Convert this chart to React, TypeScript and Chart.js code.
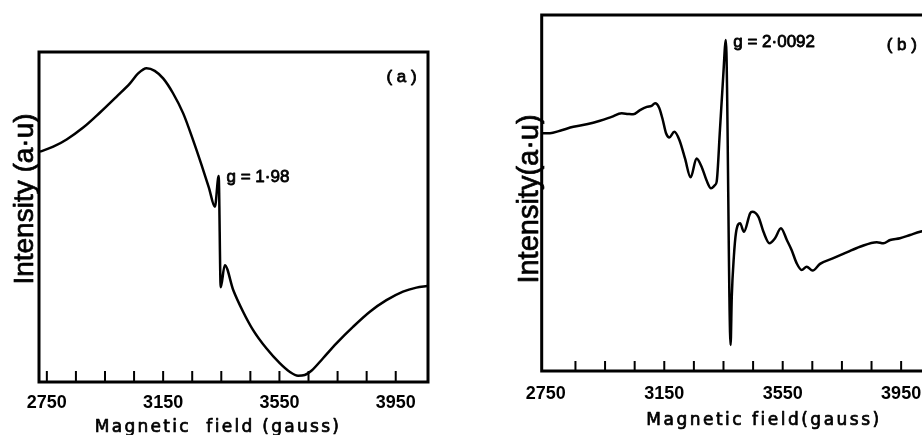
import React, { useEffect, useRef } from "react";
import { Chart, registerables } from "chart.js";

Chart.register(...registerables);

// ---------------- data ----------------
// Panel (a): magnetic field (gauss) and intensity (arbitrary units, 0..100)
const FIELD_A = [2726, 2772, 2818, 2875, 2932, 2990, 3036, 3064, 3093, 3121, 3150, 3184, 3219, 3253, 3282, 3308, 3328, 3341, 3348, 3362, 3391, 3425, 3459, 3505, 3551, 3585, 3614, 3637, 3660, 3700, 3746, 3803, 3861, 3918, 3975, 4021, 4058];
const INTENSITY_A = [69.8, 71.3, 73.5, 77.1, 81.6, 86.5, 90.5, 93.5, 95.1, 94.3, 92.0, 87.5, 81.4, 73.3, 65.8, 58.7, 53.1, 62.4, 28.7, 35.4, 27.9, 21.3, 15.8, 10.2, 5.7, 3.1, 1.9, 2.1, 3.4, 7.2, 11.7, 16.7, 21.3, 24.8, 27.4, 28.6, 29.1];

// Panel (b)
const FIELD_B = [2736, 2764, 2798, 2843, 2888, 2933, 2972, 3006, 3028, 3045, 3068, 3091, 3107, 3119, 3133, 3145, 3156, 3167, 3184, 3201, 3220, 3239, 3259, 3276, 3293, 3308, 3321, 3327, 3338, 3349, 3358, 3374, 3378, 3385, 3392, 3406, 3419, 3440, 3447, 3468, 3485, 3505, 3524, 3544, 3564, 3580, 3597, 3614, 3631, 3651, 3676, 3721, 3766, 3811, 3868, 3890, 3913, 3946, 3980, 4014, 4061];
const INTENSITY_B = [66.8, 66.8, 67.5, 68.6, 69.3, 70.3, 71.4, 72.4, 72.2, 72.1, 73.3, 74.2, 74.5, 75.2, 73.9, 70.5, 66.8, 65.6, 67.2, 64.9, 59.7, 54.4, 59.7, 57.4, 53.5, 51.3, 52.2, 53.2, 67.7, 82.7, 93.0, 7.3, 20.9, 32.1, 38.7, 41.5, 39.1, 44.3, 44.7, 43.3, 39.1, 35.9, 37.3, 40.1, 36.8, 34.0, 30.3, 28.4, 29.3, 28.2, 30.1, 31.7, 33.3, 34.9, 36.2, 35.9, 36.8, 37.3, 38.2, 39.1, 40.2];

// Axis ticks
const TICK_VALUES = [2750, 2850, 2950, 3050, 3150, 3250, 3350, 3450, 3550, 3650, 3750, 3850, 3950];
const TICK_LABELS = [2750, 3150, 3550, 3950];

// Text
const Y_TITLE_A = "Intensity (a·u)";
const Y_TITLE_B = "Intensity(a·u)";
const X_TITLE_A = "Magnetic  field (gauss)";
const X_TITLE_B = "Magnetic field(gauss)";
const NOTES_A = [
  { text: "g = 1·98", x: 3368, y: 60.7 },
  { text: "( a )", x: 3918, y: 90.9 },
];
const NOTES_B = [
  { text: "g = 2·0092", x: 3383, y: 90.9 },
  { text: "( b )", x: 3901, y: 90.2 },
];

// ---------------- layout ----------------
const H = 435;

type Note = { text: string; x: number; y: number };
type PanelSpec = {
  field: number[];
  intensity: number[];
  left: number;
  width: number;
  area: { left: number; top: number; right: number; bottom: number };
  xMin: number;
  xMax: number;
  tickPad: number;
  tickLen: number;
  rightBorder: boolean;
  yTitle: { text: string; x: number; y: number; size: number };
  xTitle: { text: string; x: number; y: number; spacing: string };
  notes: Note[];
};

const PANEL_A: PanelSpec = {
  field: FIELD_A,
  intensity: INTENSITY_A,
  left: 0,
  width: 460,
  area: { left: 39, top: 52, right: 428, bottom: 382 },
  xMin: 2723,
  xMax: 4061,
  tickPad: 4.5,
  tickLen: 11,
  rightBorder: true,
  yTitle: { text: Y_TITLE_A, x: 33.3, y: 199, size: 28 },
  xTitle: { text: X_TITLE_A, x: 218, y: 431.7, spacing: "2.3px" },
  notes: NOTES_A,
};

const PANEL_B: PanelSpec = {
  field: FIELD_B,
  intensity: INTENSITY_B,
  left: 460,
  width: 480,
  area: { left: 81.7, top: 15, right: 474, bottom: 371 },
  xMin: 2736,
  xMax: 4061,
  tickPad: 6,
  tickLen: 10,
  rightBorder: false,
  yTitle: { text: Y_TITLE_B, x: 78.3, y: 199, size: 29 },
  xTitle: { text: X_TITLE_B, x: 304, y: 425, spacing: "2.5px" },
  notes: NOTES_B,
};

function heavyText(ctx: CanvasRenderingContext2D, text: string, x: number, y: number, w: number) {
  ctx.lineWidth = w;
  ctx.lineJoin = "round";
  ctx.strokeText(text, x, y);
  ctx.fillText(text, x, y);
}

function makeFramePlugin(spec: PanelSpec) {
  return {
    id: "frame",
    afterDraw(chart: any) {
      const { ctx, chartArea: ca, scales } = chart;
      const xs = scales.x;
      const ys = scales.y;
      ctx.save();
      ctx.strokeStyle = "#000";
      ctx.fillStyle = "#000";
      ctx.lineCap = "square";
      ctx.lineWidth = 3;
      ctx.beginPath();
      ctx.moveTo(ca.left, ca.bottom);
      ctx.lineTo(ca.left, ca.top);
      ctx.lineTo(ca.right, ca.top);
      if (spec.rightBorder) ctx.lineTo(ca.right, ca.bottom);
      ctx.moveTo(ca.left, ca.bottom);
      ctx.lineTo(ca.right, ca.bottom);
      ctx.stroke();

      // inward tick marks
      ctx.lineWidth = 2;
      ctx.lineCap = "butt";
      ctx.beginPath();
      for (const v of TICK_VALUES) {
        const x = xs.getPixelForValue(v);
        if (x < ca.left + 6 || x > ca.right - 3) continue;
        ctx.moveTo(x, ca.bottom);
        ctx.lineTo(x, ca.bottom - spec.tickLen);
      }
      ctx.stroke();

      // y title
      ctx.save();
      ctx.translate(spec.yTitle.x, spec.yTitle.y);
      ctx.rotate(-Math.PI / 2);
      ctx.font = `${spec.yTitle.size}px "Liberation Sans"`;
      ctx.textAlign = "center";
      ctx.textBaseline = "alphabetic";
      heavyText(ctx, spec.yTitle.text, 0, 0, 0.7);
      ctx.restore();

      // x title
      ctx.font = `17px "DejaVu Sans"`;
      ctx.textAlign = "center";
      ctx.textBaseline = "alphabetic";
      (ctx as any).letterSpacing = spec.xTitle.spacing;
      heavyText(ctx, spec.xTitle.text, spec.xTitle.x, spec.xTitle.y, 0.7);
      (ctx as any).letterSpacing = "0px";

      // annotations
      ctx.font = `17px "Liberation Sans"`;
      ctx.textAlign = "left";
      for (const n of spec.notes) {
        heavyText(ctx, n.text, xs.getPixelForValue(n.x), ys.getPixelForValue(n.y), 0.8);
      }
      ctx.restore();
    },
  };
}

function EprPanel({ spec }: { spec: PanelSpec }) {
  const ref = useRef<HTMLCanvasElement | null>(null);
  useEffect(() => {
    const canvas = ref.current;
    if (!canvas) return;
    const { area } = spec;
    const chart = new Chart(canvas, {
      type: "line",
      data: {
        datasets: [
          {
            data: spec.field.map((x, i) => ({ x, y: spec.intensity[i] })),
            borderColor: "#000",
            borderWidth: 2.5,
            pointRadius: 0,
            fill: false,
            cubicInterpolationMode: "monotone",
          },
        ],
      },
      options: {
        responsive: false,
        animation: false,
        devicePixelRatio: 1,
        events: [],
        layout: {
          padding: { left: area.left, top: area.top, right: spec.width - area.right, bottom: 0 },
        },
        plugins: { legend: { display: false }, tooltip: { enabled: false } },
        scales: {
          x: {
            type: "linear",
            min: spec.xMin,
            max: spec.xMax,
            grid: { display: false },
            border: { display: false },
            afterBuildTicks: (s: any) => {
              s.ticks = TICK_VALUES.map((v) => ({ value: v }));
            },
            afterFit: (s: any) => {
              s.height = H - area.bottom;
            },
            ticks: {
              autoSkip: false,
              maxRotation: 0,
              minRotation: 0,
              padding: spec.tickPad,
              color: "#000",
              font: { family: "Liberation Sans", size: 18, weight: "bold", lineHeight: 1 },
              callback: (v: any) => (TICK_LABELS.includes(Number(v)) ? String(v) : ""),
            },
          },
          y: { display: false, min: 0, max: 100 },
        },
      },
      plugins: [makeFramePlugin(spec)],
    } as any);
    return () => chart.destroy();
  }, [spec]);
  return (
    <canvas
      ref={ref}
      width={spec.width}
      height={H}
      style={{ position: "absolute", left: spec.left, top: 0, width: spec.width, height: H }}
    />
  );
}

export default function App() {
  return (
    <div
      style={{
        position: "fixed",
        left: 0,
        top: 0,
        width: 922,
        height: H,
        overflow: "hidden",
        background: "#fff",
      }}
    >
      <EprPanel spec={PANEL_A} />
      <EprPanel spec={PANEL_B} />
    </div>
  );
}
